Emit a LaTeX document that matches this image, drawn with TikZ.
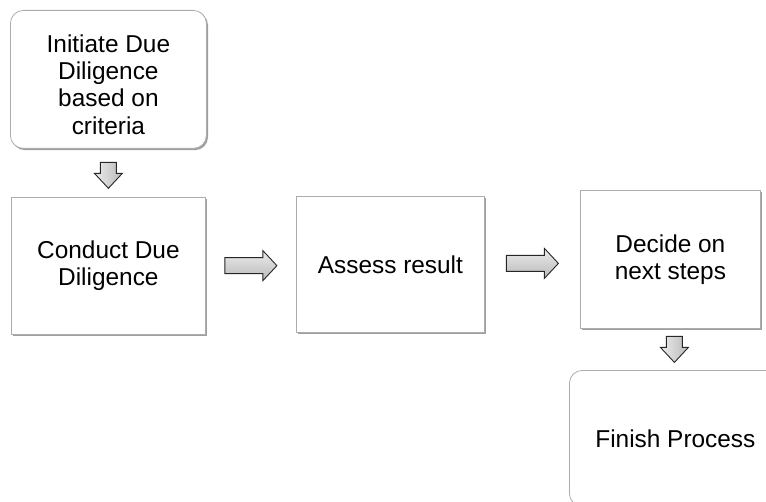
\documentclass[tikz,border=0pt]{standalone}
\usepackage{fontspec}
\setmainfont{Liberation Sans}
\usetikzlibrary{calc,shadows}
\begin{document}
\begin{tikzpicture}[x=1bp,y=-1bp,
  txt/.style={align=center, inner sep=0pt, font=\fontsize{24.5}{27.5}\selectfont},
  box/.style={draw=gray!65, line width=0.8bp, fill=white, anchor=north west, txt,
    drop shadow={shadow xshift=1.6bp, shadow yshift=-1.8bp, fill=gray!75, opacity=1}},
  rbox/.style={box, rounded corners=13bp},
  arrowfill/.style={draw=black!85, line width=0.9bp, line join=miter,
    top color=gray!15, middle color=white, bottom color=gray!55}
]
\useasboundingbox (0,0) rectangle (766,502);
\clip (0,0) rectangle (766,502);
\node[rbox, minimum width=196bp, minimum height=138bp] (b1) at (10,10) {};
\node[txt] (t1) at ($(b1.center)+(0,5)$) {Initiate Due\\Diligence\\based on\\criteria};
\node[box, minimum width=194bp, minimum height=137bp] (b2) at (11,197) {Conduct Due\\Diligence};
\node[box, minimum width=188bp, minimum height=136bp] (b3) at (296,196) {Assess result};
\node[box, minimum width=180bp, minimum height=138bp] (b4) at (580,190) {Decide on\\next steps};
\node[rbox, minimum width=212bp, minimum height=136bp] (b5) at (569,370) {Finish Process};
% arrow centres
\coordinate (a1) at ($(b1.south)!0.55!(b2.north)$);
\coordinate (a2) at ($(b2.east)!0.5!(b3.west)+(0,0.5)$);
\coordinate (a3) at ($(b3.east)!0.5!(b4.west)+(0,1.5)$);
\coordinate (a4) at ($(b4.south)!0.5!(b5.north)+(1.5,0)$);
% right arrows
\foreach \c in {a2,a3}{
  \path[arrowfill, shift={(\c)}] (-26,-8) -- (12,-8) -- (12,-15) -- (26,0) -- (12,15) -- (12,8) -- (-26,8) -- cycle;
}
% down arrows
\foreach \c in {a1,a4}{
  \path[arrowfill, shading angle=90, shift={(\c)}] (-8,-13) -- (8,-13) -- (8,-2) -- (14,-2) -- (0,13) -- (-14,-2) -- (-8,-2) -- cycle;
}
\end{tikzpicture}
\end{document}
